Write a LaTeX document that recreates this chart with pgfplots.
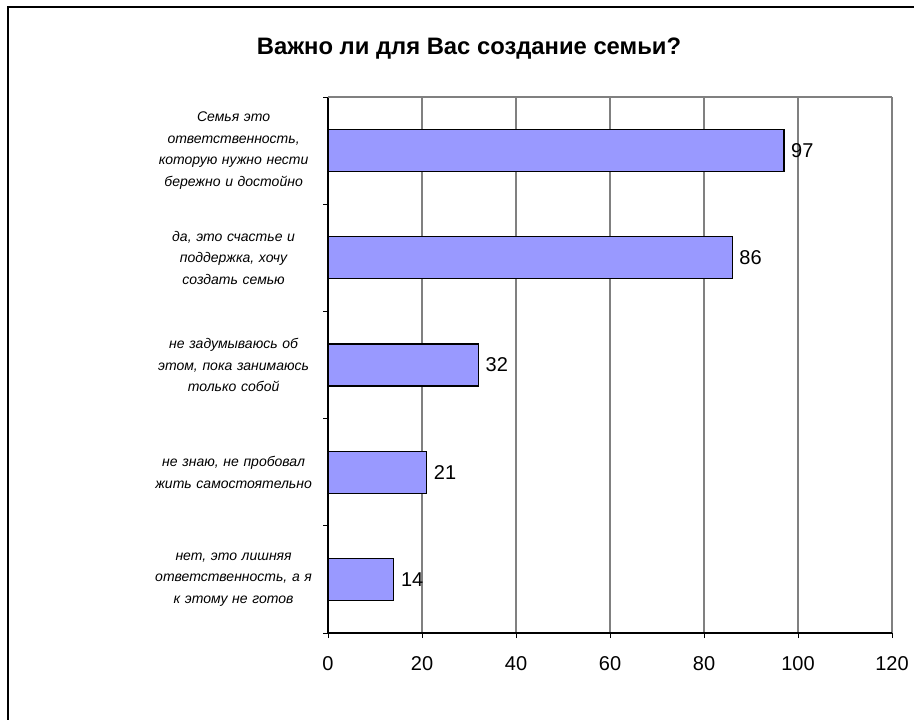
\documentclass[border=0pt]{standalone}
\usepackage{fontspec}
\setmainfont{Liberation Sans}
\usepackage{pgfplots}
\pgfplotsset{compat=1.18}
\definecolor{barblue}{RGB}{153,153,255}
\definecolor{gridgray}{RGB}{128,128,128}
\begin{document}
\begin{tikzpicture}
% canvas 914x719 px, 1px = 0.5pt, y grows downwards
\path[use as bounding box] (0,0) rectangle (457pt,-359.5pt);
\draw[line width=1pt] (4pt,-380pt) -- (4pt,-3.5pt) -- (470pt,-3.5pt);
\node[font=\fontsize{11.9}{14}\selectfont\bfseries] at (234.5pt,-24.3pt) {Важно ли для Вас создание семьи?};
\begin{axis}[
    at={(164pt,-316.5pt)}, anchor=south west,
    scale only axis, width=282pt, height=268pt,
    xbar, bar width=21pt,
    xmin=0, xmax=120, xtick={0,20,...,120},
    ymin=0.5, ymax=5.5, y dir=reverse,
    ytick={0.5,1.5,2.5,3.5,4.5,5.5},
    yticklabels={},
    extra y ticks={1,2,3,4,5},
    extra y tick labels={
        {Семья это\\ответственность,\\которую нужно нести\\бережно и достойно},
        {да, это счастье и\\поддержка, хочу\\создать семью},
        {не задумываюсь об\\этом, пока занимаюсь\\только собой},
        {не знаю, не пробовал\\жить самостоятельно},
        {нет, это лишняя\\ответственность, а я\\к этому не готов}},
    extra y tick style={major tick length=0pt, tick style={draw=none}},
    axis lines=left, axis line style={-, black, line width=0.6pt},
    tick align=outside, major tick length=2.5pt,
    tick style={black, line width=0.5pt},
    xmajorgrids, major grid style={gridgray, line width=0.6pt},
    /pgf/number format/assume math mode=true,
    xticklabel style={font=\fontsize{10}{12}\selectfont, yshift=-5.5pt},
    yticklabel style={font=\fontsize{7}{10.85}\selectfont\itshape, align=center, text width=80pt, inner sep=0pt, xshift=-7pt},
    nodes near coords,
    nodes near coords style={font=\fontsize{10}{12}\selectfont, anchor=west, xshift=0pt},
    point meta=x,
    clip=false,
]
\addplot[draw=black, fill=barblue, line width=0.6pt] coordinates {(97,1) (86,2) (32,3) (21,4) (14,5)};
\draw[gridgray, line width=0.6pt] (axis cs:0,0.5) -- (axis cs:120,0.5);
\end{axis}
\end{tikzpicture}
\end{document}
